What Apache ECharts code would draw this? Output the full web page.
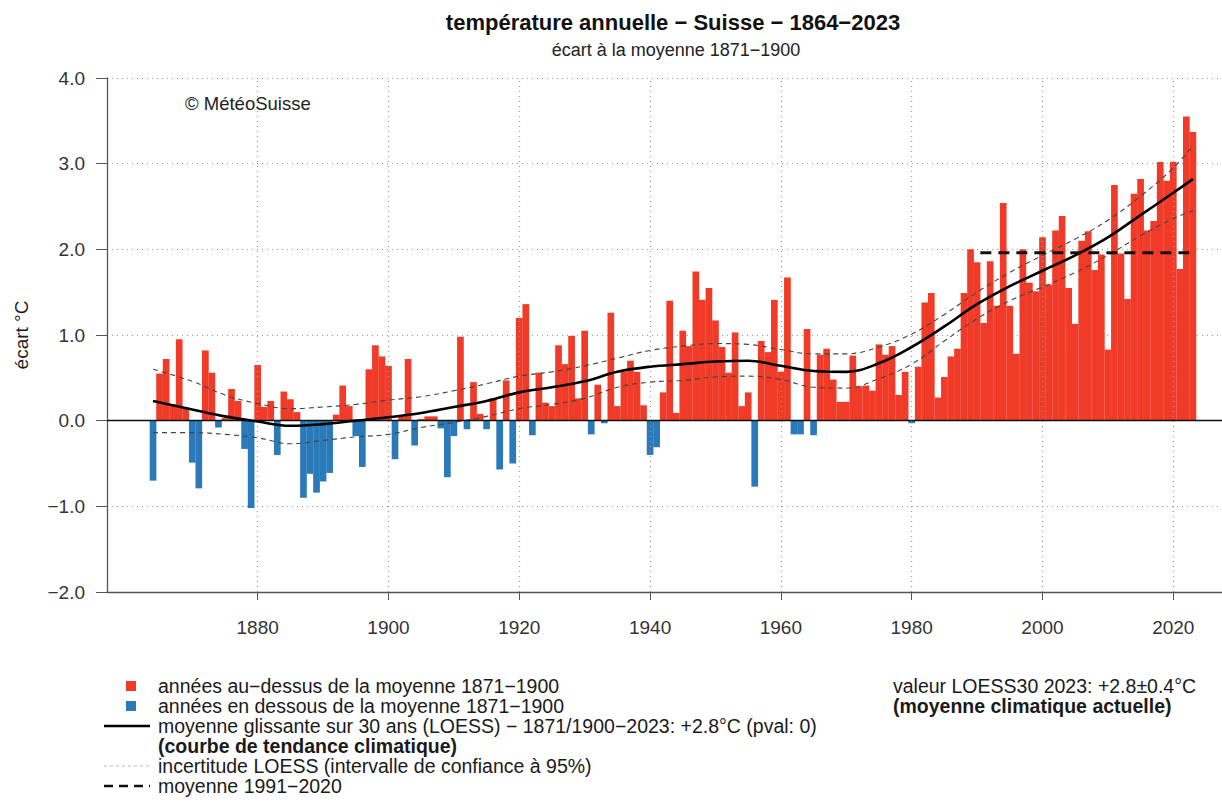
<!DOCTYPE html>
<html><head><meta charset="utf-8">
<script src="https://cdn.jsdelivr.net/npm/echarts@6/dist/echarts.min.js"></script>
<style>html,body{margin:0;padding:0;background:#fff}#c{width:1222px;height:808px}</style>
</head><body><div id="c"></div>
<script>
// ---- data ----
const firstYear = 1864;
const anomalies = [
  -0.70, 0.55, 0.72, 0.19, 0.95, 0.15,
  -0.49, -0.79, 0.82, 0.56, -0.08, 0.03, 0.37, 0.23, -0.33, -1.02,
  0.65, 0.16, 0.23, -0.40, 0.34, 0.25, 0.10, -0.90, -0.62, -0.84,
  -0.71, -0.61, 0.07, 0.41, 0.17, -0.18, -0.54, 0.60, 0.88, 0.75,
  0.64, -0.45, 0.05, 0.72, -0.29, 0.02, 0.05, 0.05, -0.09, -0.66,
  -0.18, 0.98, -0.10, 0.45, 0.08, -0.10, 0.26, -0.57, 0.47, -0.50,
  1.20, 1.36, -0.17, 0.56, 0.21, 0.17, 0.88, 0.66, 0.99, 0.26,
  1.05, -0.16, 0.42, -0.03, 1.26, 0.17, 0.57, 0.70, 0.57, 0.18,
  -0.40, -0.31, 0.33, 1.40, 0.09, 1.05, 0.87, 1.74, 1.41, 1.55,
  1.17, 0.86, 0.56, 1.03, 0.17, 0.33, -0.77, 0.93, 0.80, 1.41,
  0.57, 1.67, -0.16, -0.16, 1.07, -0.17, 0.77, 0.84, 0.48, 0.22,
  0.22, 0.76, 0.40, 0.41, 0.35, 0.89, 0.77, 0.87, 0.30, 0.57,
  -0.03, 0.63, 1.38, 1.49, 0.27, 0.51, 0.75, 0.84, 1.49, 2.00,
  1.85, 1.14, 1.86, 1.34, 2.54, 1.34, 0.78, 2.00, 1.61, 1.51,
  2.14, 1.59, 2.22, 2.39, 1.55, 1.13, 2.10, 2.21, 1.76, 1.94,
  0.83, 2.75, 1.95, 1.42, 2.65, 2.82, 2.22, 2.33, 3.02, 2.80,
  3.02, 1.77, 3.55, 3.37
];
const years = anomalies.map((_, i) => firstYear + i);

const loessYears = [1864, 1870, 1875, 1880, 1885, 1890, 1895, 1900, 1905, 1910, 1915, 1920, 1925, 1930, 1935, 1940, 1945, 1950, 1955, 1960, 1965, 1970, 1975, 1980, 1985, 1990, 1995, 2000, 2005, 2010, 2015, 2020, 2023];
const loessTrend = [0.23, 0.13, 0.05, -0.01, -0.06, -0.04, 0.00, 0.04, 0.09, 0.16, 0.23, 0.33, 0.39, 0.46, 0.57, 0.63, 0.66, 0.69, 0.70, 0.64, 0.58, 0.57, 0.67, 0.86, 1.10, 1.36, 1.57, 1.75, 1.93, 2.14, 2.40, 2.66, 2.82];
const loessUpper = [0.60, 0.46, 0.30, 0.20, 0.14, 0.16, 0.19, 0.24, 0.28, 0.35, 0.43, 0.52, 0.57, 0.64, 0.73, 0.82, 0.87, 0.90, 0.89, 0.83, 0.78, 0.78, 0.86, 1.01, 1.24, 1.50, 1.73, 1.93, 2.12, 2.34, 2.62, 2.95, 3.21];
const loessLower = [-0.14, -0.14, -0.16, -0.20, -0.27, -0.23, -0.19, -0.16, -0.08, -0.02, 0.05, 0.14, 0.19, 0.26, 0.39, 0.45, 0.47, 0.51, 0.52, 0.48, 0.39, 0.38, 0.49, 0.66, 0.93, 1.19, 1.40, 1.56, 1.73, 1.93, 2.16, 2.36, 2.45];

const meanValue = 1.96;          // moyenne 1991-2020
const meanLineYears = [1991, 2023];

const xTickYears = [1880, 1900, 1920, 1940, 1960, 1980, 2000, 2020];
const yMin = -2, yMax = 4, yStep = 1;

// ---- styles ----
const RED = '#EF3B28', BLUE = '#2A79B8';
const FONT = '"Liberation Sans", Arial, sans-serif';
const gridLeft = 107, gridTop = 78, gridBottomY = 592, W = 1222;
const xMin = 1856.96, xMax = 2027.45;
const barW = (W - gridLeft) / (xMax - xMin) + 0.15;

const pos = years.map((y, i) => [y, anomalies[i] >= 0 ? anomalies[i] : null]);
const neg = years.map((y, i) => [y, anomalies[i] < 0 ? anomalies[i] : null]);
const pts = arr => loessYears.map((y, i) => [y, arr[i]]);

const chart = echarts.init(document.getElementById('c'), null, {renderer: 'svg'});
const legendY = [686, 706, 726, 746, 766, 786];
const LS = 19.5;
const txt = (x, y, text, size, weight, align, color) => ({
  type: 'text', x: x, y: y, silent: true,
  style: {text: text, fontFamily: FONT, fontSize: size, fontWeight: weight || 'normal',
          fill: color || '#1a1a1a', align: align || 'left', verticalAlign: 'middle'}
});
chart.setOption({
  animation: false,
  backgroundColor: '#fff',
  grid: {left: gridLeft, right: 0, top: gridTop, bottom: 808 - gridBottomY, containLabel: false},
  xAxis: {
    type: 'value', min: xMin, max: xMax,
    axisLine: {show: true, onZero: false, lineStyle: {color: '#555', width: 1.3}},
    axisTick: {show: true, customValues: xTickYears, length: 8, lineStyle: {color: '#555'}},
    axisLabel: {customValues: xTickYears, fontFamily: FONT, fontSize: 19, color: '#333', margin: 26,
                formatter: v => String(v)},
    splitLine: {show: false}
  },
  yAxis: {
    type: 'value', min: yMin, max: yMax, interval: yStep,
    name: 'écart °C', nameLocation: 'middle', nameGap: 76, nameRotate: 90,
    nameTextStyle: {fontFamily: FONT, fontSize: 19, color: '#1a1a1a'},
    axisLine: {show: true, lineStyle: {color: '#555', width: 1.3}},
    axisTick: {show: true, inside: false, length: 11, lineStyle: {color: '#555'}},
    axisLabel: {fontFamily: FONT, fontSize: 19, color: '#333', margin: 22,
                formatter: v => (v < 0 ? '\u2212' : '') + Math.abs(v).toFixed(1)},
    splitLine: {show: true, lineStyle: {color: '#999', type: [1, 4], width: 1.2}}
  },
  series: [
    {type: 'line', data: [], z: 1, silent: true,
     markLine: {symbol: 'none', silent: true, label: {show: false},
                lineStyle: {color: '#999', type: [1, 4], width: 1.2},
                data: xTickYears.map(v => ({xAxis: v}))}},
    {type: 'bar', name: 'pos', data: pos, barWidth: barW, barGap: '-100%', z: 2,
     itemStyle: {color: RED}, silent: true},
    {type: 'bar', name: 'neg', data: neg, barWidth: barW, barGap: '-100%', z: 2,
     itemStyle: {color: BLUE}, silent: true},
    {type: 'line', name: 'lower', data: pts(loessLower), smooth: 0.4, showSymbol: false, z: 4,
     lineStyle: {color: '#444', width: 1.1, type: [5, 4]}, silent: true},
    {type: 'line', name: 'upper', data: pts(loessUpper), smooth: 0.4, showSymbol: false, z: 4,
     lineStyle: {color: '#444', width: 1.1, type: [5, 4]}, silent: true},
    {type: 'line', name: 'trend', data: pts(loessTrend), smooth: 0.4, showSymbol: false, z: 5,
     lineStyle: {color: '#000', width: 2.6}, silent: true,
     markLine: {symbol: 'none', silent: true, label: {show: false},
                lineStyle: {color: '#111', type: 'solid', width: 1.4},
                data: [{yAxis: 0}]}},
    {type: 'line', name: 'mean', data: [[meanLineYears[0] - 0.5, meanValue], [meanLineYears[1] + 0.3, meanValue]],
     showSymbol: false, z: 6, lineStyle: {color: '#111', width: 3, type: [11, 7]}, silent: true}
  ],
  graphic: [
    txt(673, 22, 'température annuelle \u2212 Suisse \u2212 1864\u22122023', 22, 'bold', 'center', '#111'),
    txt(676, 50, 'écart à la moyenne 1871\u22121900', 18, 'normal', 'center', '#222'),
    txt(185, 103, '© MétéoSuisse', 18.5, 'normal', 'left', '#222'),
    {type: 'rect', shape: {x: 126, y: legendY[0] - 5, width: 10, height: 10}, style: {fill: RED}, silent: true},
    {type: 'rect', shape: {x: 126, y: legendY[1] - 5, width: 10, height: 10}, style: {fill: BLUE}, silent: true},
    {type: 'line', shape: {x1: 104, y1: legendY[2], x2: 150, y2: legendY[2]}, style: {stroke: '#000', lineWidth: 2.6}, silent: true},
    {type: 'line', shape: {x1: 104, y1: legendY[4], x2: 150, y2: legendY[4]}, style: {stroke: '#bbb', lineWidth: 1.2, lineDash: [3, 3]}, silent: true},
    {type: 'line', shape: {x1: 104, y1: legendY[5], x2: 150, y2: legendY[5]}, style: {stroke: '#111', lineWidth: 2.4, lineDash: [9, 6]}, silent: true},
    txt(158, legendY[0], 'années au\u2212dessus de la moyenne 1871\u22121900', LS),
    txt(158, legendY[1], 'années en dessous de la moyenne 1871\u22121900', LS),
    txt(158, legendY[2], 'moyenne glissante sur 30 ans (LOESS) \u2212 1871/1900\u22122023: +2.8°C (pval: 0)', LS),
    txt(158, legendY[3], '(courbe de tendance climatique)', LS, 'bold'),
    txt(158, legendY[4], 'incertitude LOESS (intervalle de confiance à 95%)', LS),
    txt(158, legendY[5], 'moyenne 1991\u22122020', LS),
    txt(893, legendY[0], 'valeur LOESS30 2023: +2.8±0.4°C', LS),
    txt(893, legendY[1], '(moyenne climatique actuelle)', LS, 'bold')
  ]
});
</script></body></html>
